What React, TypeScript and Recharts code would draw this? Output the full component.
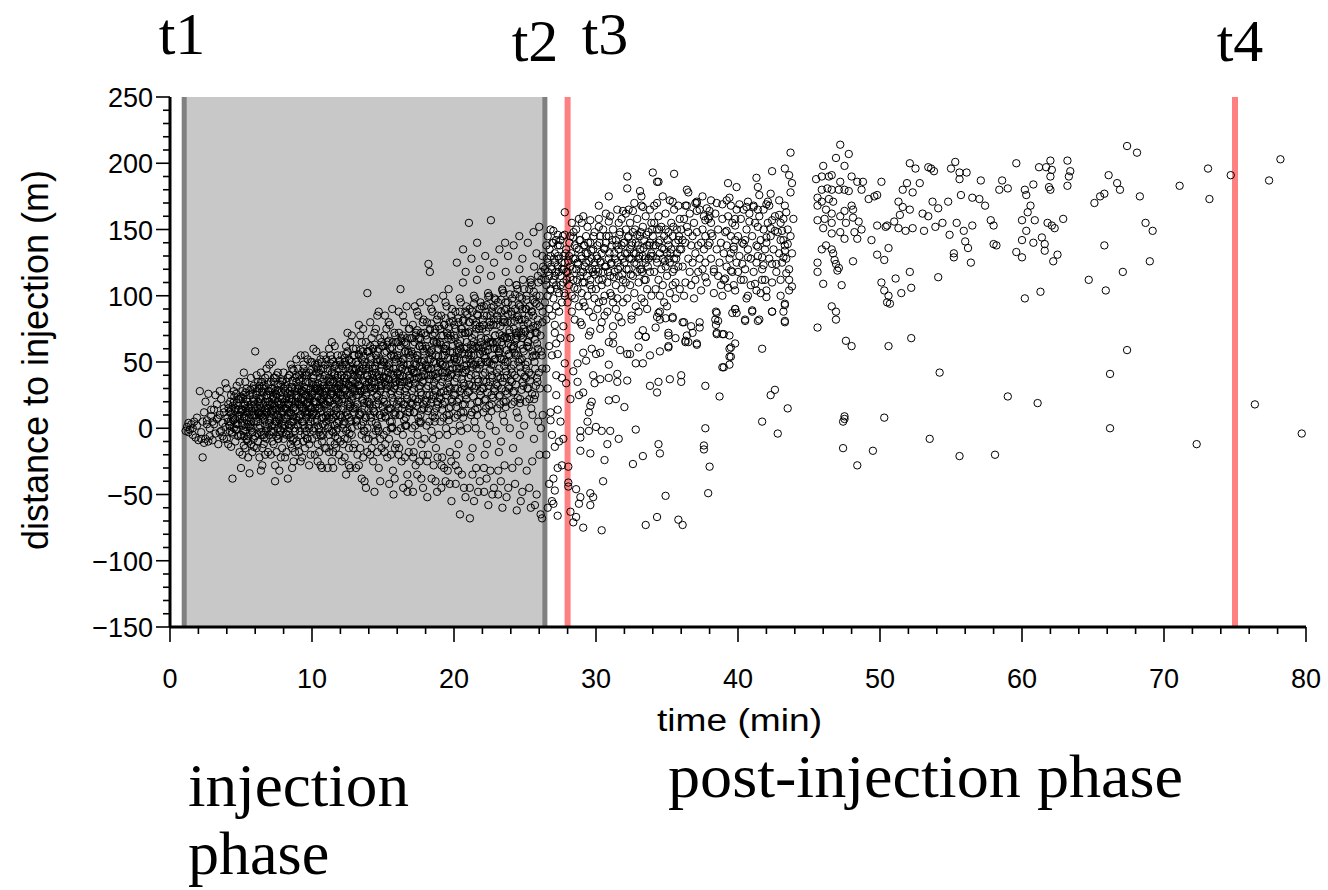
import React from "react";
import {
  ScatterChart,
  Scatter,
  XAxis,
  YAxis,
  ReferenceArea,
  ReferenceLine,
  Customized,
} from "recharts";

// time markers (min)
const T1 = 1.0;
const T2 = 26.4;
const T3 = 28.0;
const T4 = 75.0;

const X_TICKS = [0, 2, 4, 6, 8, 10, 12, 14, 16, 18, 20, 22, 24, 26, 28, 30, 32, 34, 36, 38, 40, 42, 44, 46, 48, 50, 52, 54, 56, 58, 60, 62, 64, 66, 68, 70, 72, 74, 76, 78, 80];
const X_LABELED = [0, 10, 20, 30, 40, 50, 60, 70, 80];
const Y_TICKS = [-150, -140, -130, -120, -110, -100, -90, -80, -70, -60, -50, -40, -30, -20, -10, 0, 10, 20, 30, 40, 50, 60, 70, 80, 90, 100, 110, 120, 130, 140, 150, 160, 170, 180, 190, 200, 210, 220, 230, 240, 250];
const Y_LABELED = [-150, -100, -50, 0, 50, 100, 150, 200, 250];

// [time (min), distance to injection (m)]
const injectionEarly: [number, number][] = [
  [1.1,-2],[1.2,1],[1.3,4],[1.4,-1],[1.5,3],[1.6,0],[1.7,5],[1.8,-7],[1.9,2],[1.9,8],[1.6,-5],[1.3,-3],
  [2.0,-9],[2.1,28],[2.2,-8],[2.3,-22],[2.3,5],[2.4,12],[2.5,-8],[2.5,20],[2.6,3],[2.7,-10],[2.7,26],[2.8,0],[2.8,-6],[2.9,9],[2.9,14],[2.2,-3],[2.6,6],[2.4,-11],
  [3.0,-9],[3.1,14],[3.1,3],[3.2,-4],[3.3,18],[3.3,7],[3.4,-12],[3.5,28],[3.5,10],[3.6,-2],[3.6,22],[3.7,4],[3.8,-8],[3.8,15],[3.9,34],[3.9,1],[3.2,25],[3.4,8],[3.7,-6],[3.0,5],[3.5,-3],[3.8,12],
  [4.0,30],[4.0,-8],[4.1,18],[4.1,5],[4.2,-2],[4.2,12],[4.3,25],[4.3,-14],[4.4,-38],[4.4,8],[4.5,20],[4.5,0],[4.6,15],[4.6,-10],[4.7,32],[4.7,3],[4.8,-6],[4.8,22],[4.9,10],[4.9,-18],[4.1,-12],[4.3,14],[4.5,28],[4.7,-1],[4.9,35],[4.2,2],[4.6,7],[4.8,17],[4.4,-4],[5.0,-30],
  [5.0,12],[5.0,-5],[5.1,28],[5.1,2],[5.2,-13],[5.2,42],[5.3,18],[5.3,-15],[5.4,6],[5.4,30],[5.5,-10],[5.5,15],[5.6,-34],[5.6,25],[5.7,0],[5.7,38],[5.8,10],[5.8,-18],[5.9,20],[5.9,-8],[5.1,14],[5.2,8],[5.3,-2],[5.4,22],[5.5,3],[5.6,12],[5.7,-12],[5.8,30],[5.9,5],[5.0,24],[5.3,35],[5.5,-22],[5.7,18],[5.9,-14],[5.2,-6],[5.4,-9],[5.6,1],[5.8,-3],[5.1,-20],[5.9,32],
  [6.0,58],[6.0,10],[6.0,-6],[6.1,25],[6.1,-15],[6.2,35],[6.2,5],[6.3,-22],[6.3,18],[6.4,42],[6.4,-3],[6.5,28],[6.5,12],[6.6,-12],[6.6,32],[6.7,2],[6.7,20],[6.8,-8],[6.8,45],[6.9,15],[6.9,-18],[6.1,8],[6.2,-10],[6.3,30],[6.4,22],[6.5,-28],[6.6,8],[6.7,38],[6.8,25],[6.9,0],[6.0,30],[6.2,15],[6.4,10],[6.6,-5],[6.8,12],[6.1,40],[6.3,0],[6.5,-15],[6.7,-20],[6.9,28],[6.3,12],[6.5,35],[6.7,10],[6.9,40],[6.4,-32],
  [7.0,20],[7.0,-5],[7.0,48],[7.1,12],[7.1,-20],[7.2,30],[7.2,2],[7.3,-12],[7.3,38],[7.4,15],[7.4,-28],[7.5,25],[7.5,5],[7.6,-8],[7.6,42],[7.7,18],[7.7,-32],[7.8,8],[7.8,33],[7.9,-15],[7.9,22],[7.1,35],[7.2,-10],[7.3,10],[7.4,28],[7.5,-18],[7.6,0],[7.7,28],[7.8,-2],[7.9,12],[7.0,8],[7.2,18],[7.4,5],[7.6,20],[7.8,18],[7.1,-2],[7.3,22],[7.5,40],[7.7,-5],[7.9,35],[7.2,50],[7.4,-40],[7.6,10],[7.8,-22],[7.0,28],[7.3,-3],[7.5,14],[7.7,6],[7.9,2],[7.1,25],
  [8.0,15],[8.0,-8],[8.0,42],[8.1,28],[8.1,2],[8.2,-18],[8.2,35],[8.3,10],[8.3,-38],[8.4,22],[8.4,-5],[8.5,48],[8.5,12],[8.6,-15],[8.6,30],[8.7,5],[8.7,-25],[8.8,38],[8.8,18],[8.9,-10],[8.9,25],[8.1,15],[8.2,8],[8.3,30],[8.4,0],[8.5,-12],[8.6,20],[8.7,44],[8.8,-2],[8.9,8],[8.0,30],[8.2,22],[8.4,40],[8.6,-30],[8.8,28],[8.1,-22],[8.3,-2],[8.5,25],[8.7,15],[8.9,35],[8.2,-5],[8.4,12],[8.6,5],[8.8,-18],[8.0,0],[8.3,18],[8.5,2],[8.7,-8],[8.9,52],[8.6,45],
];

const injectionMid: [number, number][] = [
  [9.0,20],[9.0,-12],[9.0,45],[9.1,8],[9.1,32],[9.2,-5],[9.2,55],[9.3,15],[9.3,-22],[9.4,28],[9.4,2],[9.5,40],[9.5,-15],[9.6,18],[9.6,-2],[9.7,35],[9.7,10],[9.8,-28],[9.8,22],[9.9,50],[9.9,5],[9.1,-18],[9.2,22],[9.3,38],[9.4,-10],[9.5,12],[9.6,30],[9.7,-8],[9.8,42],[9.9,15],[9.0,30],[9.2,10],[9.4,48],[9.6,8],[9.8,0],[9.1,18],[9.3,5],[9.5,25],[9.7,52],[9.9,-20],[9.2,-25],[9.4,15],[9.6,42],[9.8,12],[9.0,2],[9.3,28],[9.5,0],[9.7,20],[9.9,30],[9.1,40],[9.5,55],[9.8,-12],
  [10.0,25],[10.0,-8],[10.0,50],[10.1,12],[10.1,38],[10.2,-20],[10.2,5],[10.3,30],[10.3,58],[10.4,15],[10.4,-12],[10.5,42],[10.5,0],[10.6,22],[10.6,-28],[10.7,35],[10.7,8],[10.8,55],[10.8,-5],[10.9,18],[10.9,40],[10.1,-2],[10.2,28],[10.3,10],[10.4,45],[10.5,-18],[10.6,30],[10.7,-10],[10.8,20],[10.9,2],[10.0,35],[10.2,48],[10.4,2],[10.6,12],[10.8,32],[10.1,20],[10.3,-5],[10.5,28],[10.7,50],[10.9,-15],[10.2,15],[10.4,30],[10.6,52],[10.8,8],[10.0,10],[10.3,42],[10.5,15],[10.7,22],[10.9,28],[10.1,60],[10.4,-25],[10.6,-5],[10.8,45],[10.3,20],[10.7,-30],
  [11.0,30],[11.0,5],[11.0,-15],[11.1,45],[11.1,20],[11.2,-5],[11.2,60],[11.3,12],[11.3,35],[11.4,-25],[11.4,28],[11.5,50],[11.5,8],[11.6,-12],[11.6,40],[11.7,22],[11.7,-2],[11.8,55],[11.8,15],[11.9,-20],[11.9,32],[11.1,0],[11.2,38],[11.3,-10],[11.4,10],[11.5,25],[11.6,18],[11.7,48],[11.8,-8],[11.9,5],[11.0,52],[11.2,22],[11.4,42],[11.6,2],[11.8,30],[11.1,-30],[11.3,55],[11.5,-18],[11.7,10],[11.9,45],[11.2,8],[11.4,-2],[11.6,62],[11.8,38],[11.0,18],[11.3,25],[11.5,35],[11.7,-15],[11.9,20],[11.1,10],[11.5,-30],[11.8,0],[11.4,65],[11.7,30],[11.2,-18],
  [12.0,35],[12.0,10],[12.0,-10],[12.1,55],[12.1,22],[12.2,0],[12.2,45],[12.3,-22],[12.3,28],[12.4,62],[12.4,12],[12.5,40],[12.5,-8],[12.6,20],[12.6,52],[12.7,5],[12.7,-30],[12.8,35],[12.8,70],[12.9,15],[12.9,-15],[12.1,-25],[12.2,30],[12.3,50],[12.4,-2],[12.5,25],[12.6,8],[12.7,42],[12.8,-5],[12.9,60],[12.0,48],[12.2,15],[12.4,35],[12.6,-15],[12.8,22],[12.1,8],[12.3,5],[12.5,58],[12.7,18],[12.9,30],[12.2,-12],[12.4,48],[12.6,32],[12.8,0],[12.0,25],[12.3,38],[12.5,10],[12.7,65],[12.9,45],[12.1,40],[12.4,-35],[12.6,-28],[12.8,50],[12.5,72],[12.3,-8],
  [13.0,40],[13.0,15],[13.0,-12],[13.1,60],[13.1,25],[13.2,2],[13.2,48],[13.3,-28],[13.3,32],[13.4,70],[13.4,10],[13.5,52],[13.5,-5],[13.6,22],[13.6,45],[13.7,-40],[13.7,30],[13.8,65],[13.8,8],[13.9,102],[13.9,-18],[13.1,-30],[13.2,35],[13.3,55],[13.4,-15],[13.5,28],[13.6,5],[13.7,50],[13.8,-8],[13.9,40],[13.0,55],[13.2,18],[13.4,40],[13.6,75],[13.8,25],[13.1,5],[13.3,10],[13.5,65],[13.7,15],[13.9,20],[13.2,-20],[13.4,28],[13.6,-22],[13.8,45],[13.0,28],[13.3,42],[13.5,12],[13.7,-2],[13.9,58],[13.1,45],[13.5,-38],[13.8,-45],[13.6,58],[13.3,78],[13.9,0],
  [14.0,45],[14.0,20],[14.0,-8],[14.1,62],[14.1,30],[14.2,5],[14.2,52],[14.3,-25],[14.3,38],[14.4,72],[14.4,12],[14.5,55],[14.5,-2],[14.6,25],[14.6,85],[14.7,-30],[14.7,40],[14.8,68],[14.8,10],[14.9,48],[14.9,-15],[14.1,-20],[14.2,35],[14.3,60],[14.4,-10],[14.5,30],[14.6,2],[14.7,18],[14.8,-40],[14.9,32],[14.0,58],[14.2,22],[14.4,45],[14.6,50],[14.8,28],[14.1,10],[14.3,15],[14.5,75],[14.7,60],[14.9,8],[14.2,-15],[14.4,30],[14.6,-18],[14.8,52],[14.0,35],[14.3,-5],[14.5,42],[14.7,-2],[14.9,65],[14.1,80],[14.4,-48],[14.7,88],[14.5,18],[14.2,68],[14.8,-8],
  [15.0,50],[15.0,22],[15.05,-5],[15.1,70],[15.15,35],[15.2,8],[15.25,58],[15.3,-22],[15.35,42],[15.4,80],[15.45,15],[15.5,60],[15.55,0],[15.6,28],[15.65,90],[15.7,-32],[15.75,45],[15.8,72],[15.85,12],[15.9,52],[15.95,-12],[15.12,-18],[15.22,38],[15.32,65],[15.42,-8],[15.52,32],[15.62,5],[15.72,20],[15.82,-38],[15.92,35],[15.02,62],[15.18,25],[15.38,48],[15.58,55],[15.78,30],[15.08,12],[15.28,18],[15.48,78],[15.68,65],[15.88,10],[15.16,-12],[15.36,32],[15.56,-20],[15.76,55],[15.04,38],[15.26,-2],[15.46,45],[15.66,0],[15.86,70],[15.14,85],[15.44,-42],[15.74,-50],[15.54,15],[15.24,75],[15.84,-15],
  [16.02,55],[16.06,25],[16.0,-2],[16.12,72],[16.16,38],[16.22,10],[16.24,62],[16.31,-25],[16.35,45],[16.41,85],[16.44,18],[16.52,65],[16.55,2],[16.61,30],[16.66,92],[16.71,-35],[16.74,48],[16.82,75],[16.85,15],[16.92,55],[16.96,-10],[16.1,-20],[16.2,40],[16.3,68],[16.4,-5],[16.5,35],[16.6,8],[16.7,22],[16.8,-42],[16.9,38],[16.04,65],[16.18,28],[16.38,52],[16.58,58],[16.78,32],[16.08,15],[16.28,20],[16.48,80],[16.68,68],[16.88,12],[16.14,-15],[16.34,35],[16.54,-22],[16.76,58],[16.0,42],[16.26,0],[16.46,48],[16.64,2],[16.86,75],[16.11,88],[16.42,-45],[16.72,-48],[16.56,18],[16.23,105],[16.81,-18],
];

const injectionLate: [number, number][] = [
  [17.0,58],[17.03,28],[17.05,0],[17.1,78],[17.14,42],[17.2,12],[17.23,65],[17.3,-28],[17.33,48],[17.4,88],[17.42,20],[17.5,68],[17.53,5],[17.6,32],[17.62,95],[17.7,-38],[17.73,50],[17.8,80],[17.84,18],[17.9,58],[17.93,-8],[17.12,-22],[17.22,42],[17.32,72],[17.44,-5],[17.52,38],[17.64,10],[17.72,25],[17.82,-45],[17.92,40],[17.04,68],[17.18,30],[17.38,55],[17.58,62],[17.78,35],[17.08,18],[17.28,22],[17.48,85],[17.68,72],[17.88,15],[17.16,-18],[17.36,38],[17.56,-25],[17.76,62],[17.02,45],[17.26,2],[17.46,52],[17.66,5],[17.86,82],[17.11,-48],[17.41,-35],[17.71,-12],[17.54,22],[17.24,92],[17.81,-20],
  [18.0,62],[18.04,30],[18.06,2],[18.1,80],[18.13,45],[18.2,124],[18.22,15],[18.3,118],[18.34,52],[18.4,90],[18.43,22],[18.5,70],[18.52,-8],[18.6,35],[18.63,98],[18.7,-40],[18.72,55],[18.8,82],[18.83,20],[18.9,60],[18.94,-5],[18.11,-25],[18.21,45],[18.31,75],[18.41,-2],[18.51,40],[18.61,12],[18.71,28],[18.81,-48],[18.91,42],[18.02,70],[18.18,32],[18.38,58],[18.58,65],[18.78,38],[18.08,20],[18.28,25],[18.48,88],[18.68,75],[18.88,18],[18.16,-20],[18.36,40],[18.56,-28],[18.76,65],[18.01,48],[18.26,5],[18.46,55],[18.66,8],[18.86,85],[18.12,-52],[18.42,-38],[18.73,-15],[18.55,25],[18.24,95],[18.84,-22],
  [19.0,65],[19.03,32],[19.05,5],[19.1,85],[19.14,48],[19.2,18],[19.23,70],[19.3,-30],[19.33,55],[19.4,95],[19.42,25],[19.5,72],[19.53,-5],[19.6,38],[19.62,105],[19.7,-42],[19.73,58],[19.8,85],[19.84,22],[19.9,62],[19.93,-2],[19.12,-28],[19.22,48],[19.32,78],[19.44,0],[19.52,42],[19.64,15],[19.72,30],[19.82,-55],[19.92,45],[19.04,75],[19.18,35],[19.38,60],[19.58,68],[19.78,40],[19.08,22],[19.28,28],[19.48,92],[19.68,80],[19.88,20],[19.16,-22],[19.36,42],[19.56,-32],[19.76,70],[19.02,50],[19.26,8],[19.46,58],[19.66,10],[19.86,90],[19.11,-45],[19.41,-40],[19.71,-18],[19.54,28],[19.24,100],[19.81,-25],
  [20.0,70],[20.04,35],[20.06,8],[20.1,88],[20.13,50],[20.2,125],[20.22,20],[20.3,-32],[20.34,58],[20.4,98],[20.43,28],[20.5,75],[20.52,-2],[20.6,42],[20.63,110],[20.7,-45],[20.72,60],[20.8,88],[20.83,25],[20.9,65],[20.94,0],[20.11,-28],[20.21,52],[20.31,80],[20.41,2],[20.51,45],[20.61,18],[20.71,32],[20.81,-52],[20.91,48],[20.02,78],[20.18,38],[20.38,62],[20.58,72],[20.78,42],[20.08,25],[20.28,30],[20.48,95],[20.68,82],[20.88,22],[20.16,-20],[20.36,45],[20.56,-35],[20.76,72],[20.01,52],[20.26,10],[20.46,60],[20.66,12],[20.86,92],[20.42,-65],[20.64,135],[20.12,-42],[20.54,30],[20.82,118],[20.32,-12],
  [21.0,72],[21.03,38],[21.05,155],[21.1,90],[21.14,52],[21.2,10],[21.23,128],[21.3,-35],[21.33,60],[21.4,100],[21.42,30],[21.5,78],[21.53,0],[21.6,45],[21.62,112],[21.7,-48],[21.73,62],[21.8,90],[21.84,28],[21.9,68],[21.93,-5],[21.12,-68],[21.22,55],[21.32,82],[21.44,5],[21.52,48],[21.64,20],[21.72,35],[21.82,-40],[21.92,50],[21.04,80],[21.18,40],[21.38,65],[21.58,75],[21.78,45],[21.08,28],[21.28,32],[21.48,98],[21.68,85],[21.88,25],[21.16,-22],[21.36,48],[21.56,-30],[21.76,75],[21.02,55],[21.26,12],[21.46,62],[21.66,15],[21.86,95],[21.41,-55],[21.63,140],[21.11,-45],[21.54,32],[21.81,120],[21.31,-15],
  [22.0,75],[22.04,40],[22.06,12],[22.1,92],[22.13,55],[22.2,130],[22.22,22],[22.3,-38],[22.34,62],[22.4,102],[22.43,32],[22.5,80],[22.52,2],[22.6,157],[22.63,48],[22.7,-50],[22.72,65],[22.8,92],[22.83,30],[22.9,70],[22.94,-2],[22.11,-30],[22.21,58],[22.31,85],[22.41,8],[22.51,50],[22.61,115],[22.71,38],[22.81,-45],[22.91,52],[22.02,82],[22.18,42],[22.38,68],[22.58,78],[22.78,48],[22.08,30],[22.28,35],[22.48,100],[22.68,88],[22.88,28],[22.16,-20],[22.36,50],[22.56,-32],[22.76,78],[22.01,58],[22.26,15],[22.46,65],[22.66,18],[22.86,98],[22.42,-58],[22.64,25],[22.12,-48],[22.54,35],[22.82,125],[22.32,-12],
  [23.0,78],[23.03,42],[23.05,15],[23.1,95],[23.14,58],[23.2,135],[23.23,25],[23.3,-40],[23.33,65],[23.4,105],[23.42,35],[23.5,82],[23.53,5],[23.6,140],[23.62,50],[23.7,-52],[23.73,68],[23.8,95],[23.84,32],[23.9,72],[23.93,0],[23.12,-32],[23.22,60],[23.32,88],[23.44,10],[23.52,52],[23.64,118],[23.72,40],[23.82,-45],[23.92,55],[23.04,85],[23.18,45],[23.38,70],[23.58,80],[23.78,50],[23.08,32],[23.28,38],[23.48,102],[23.68,90],[23.88,30],[23.16,-18],[23.36,52],[23.56,-28],[23.76,80],[23.02,60],[23.26,18],[23.46,68],[23.66,20],[23.86,110],[23.41,-60],[23.63,28],[23.11,-50],[23.54,38],[23.81,130],[23.31,-10],
  [24.0,80],[24.04,45],[24.06,18],[24.1,98],[24.13,60],[24.2,138],[24.22,28],[24.3,-42],[24.34,68],[24.4,108],[24.43,38],[24.5,85],[24.52,8],[24.6,145],[24.63,52],[24.7,-55],[24.72,70],[24.8,98],[24.83,35],[24.9,75],[24.94,2],[24.11,-30],[24.21,62],[24.31,90],[24.41,12],[24.51,55],[24.61,120],[24.71,42],[24.81,-48],[24.91,58],[24.02,88],[24.18,48],[24.38,72],[24.58,82],[24.78,52],[24.08,35],[24.28,40],[24.48,105],[24.68,92],[24.88,32],[24.16,-15],[24.36,55],[24.56,-25],[24.76,82],[24.01,62],[24.26,20],[24.46,70],[24.66,22],[24.86,112],[24.42,-62],[24.64,-5],[24.82,128],
  [25.0,82],[25.03,48],[25.05,20],[25.1,100],[25.14,62],[25.2,140],[25.23,30],[25.3,-45],[25.33,70],[25.4,110],[25.42,40],[25.5,88],[25.53,10],[25.6,148],[25.62,55],[25.7,-58],[25.73,72],[25.8,100],[25.84,38],[25.9,78],[25.93,5],[26.0,152],[26.03,92],[26.05,30],[26.1,-65],[26.13,118],[26.15,58],[26.2,-68],[26.23,80],[26.25,10],[25.12,-32],[25.22,65],[25.32,92],[25.44,15],[25.52,58],[25.64,122],[25.72,45],[25.82,-50],[25.92,60],[25.04,90],[25.18,50],[25.38,75],[25.58,85],[25.78,55],[25.08,38],[25.28,42],[25.48,108],[25.68,95],[25.88,35],[26.02,-20],[26.12,0],[26.22,130],[25.41,-60],[25.63,-8],[25.81,132],[25.31,22],[25.51,-25],[25.71,25],[25.91,115],[26.21,45],
];

// the darkest band of the injection phase
const injectionCore: [number, number][] = [
  [4.05,8],[4.12,15],[4.18,2],[4.24,20],[4.31,11],[4.36,-3],[4.42,17],[4.47,6],[4.53,24],[4.58,13],[4.63,-1],[4.69,19],[4.74,9],[4.79,3],[4.84,14],[4.88,22],[4.93,7],[4.97,-5],[4.27,5],[4.66,26],
  [5.03,14],[5.08,4],[5.13,22],[5.17,-2],[5.22,17],[5.27,9],[5.31,27],[5.36,1],[5.41,12],[5.46,20],[5.51,-6],[5.56,8],[5.61,16],[5.66,29],[5.71,5],[5.76,13],[5.81,-3],[5.86,22],[5.91,10],[5.96,18],[5.19,25],[5.43,-8],[5.68,3],[5.84,26],[5.33,15],
  [6.03,16],[6.07,5],[6.12,28],[6.16,-4],[6.21,20],[6.26,11],[6.3,32],[6.35,2],[6.39,15],[6.44,24],[6.49,-5],[6.53,9],[6.58,18],[6.62,30],[6.67,6],[6.71,14],[6.76,-2],[6.81,25],[6.85,12],[6.9,20],[6.94,33],[6.98,4],[6.18,12],[6.41,35],[6.64,-7],[6.83,17],[6.27,22],[6.56,27],
  [7.03,18],[7.07,6],[7.12,30],[7.16,-3],[7.21,22],[7.26,13],[7.3,35],[7.35,3],[7.39,17],[7.44,26],[7.49,-6],[7.53,10],[7.58,20],[7.62,33],[7.67,8],[7.71,15],[7.76,-1],[7.81,27],[7.85,13],[7.9,22],[7.94,36],[7.98,5],[7.18,14],[7.41,38],[7.64,-8],[7.83,19],[7.27,24],[7.56,29],
  [8.03,20],[8.07,7],[8.12,32],[8.16,-4],[8.21,24],[8.26,14],[8.3,38],[8.35,3],[8.39,18],[8.44,28],[8.49,-7],[8.53,11],[8.58,22],[8.62,36],[8.67,9],[8.71,16],[8.76,0],[8.81,30],[8.85,14],[8.9,24],[8.94,39],[8.98,6],[8.18,15],[8.41,40],[8.64,-9],[8.83,20],[8.27,26],[8.56,31],
  [9.03,23],[9.07,9],[9.12,36],[9.16,-2],[9.21,27],[9.26,16],[9.3,42],[9.35,5],[9.39,21],[9.44,31],[9.49,-5],[9.53,13],[9.58,25],[9.62,40],[9.67,11],[9.71,19],[9.76,2],[9.81,34],[9.85,17],[9.9,27],[9.94,44],[9.98,8],[9.18,18],[9.41,45],[9.64,-8],[9.83,23],[9.27,29],[9.56,35],[9.09,30],[9.74,24],
  [10.03,26],[10.07,11],[10.12,40],[10.16,0],[10.21,30],[10.26,18],[10.3,46],[10.35,6],[10.39,24],[10.44,34],[10.49,-3],[10.53,15],[10.58,28],[10.62,44],[10.67,13],[10.71,21],[10.76,3],[10.81,37],[10.85,19],[10.9,30],[10.94,48],[10.98,9],[10.18,20],[10.41,49],[10.64,-6],[10.83,25],[10.27,32],[10.56,38],[10.09,33],[10.74,27],
  [11.03,28],[11.07,12],[11.12,43],[11.16,1],[11.21,32],[11.26,20],[11.3,49],[11.35,7],[11.39,26],[11.44,37],[11.49,-3],[11.53,16],[11.58,30],[11.62,47],[11.67,14],[11.71,23],[11.76,4],[11.81,40],[11.85,21],[11.9,33],[11.94,51],[11.98,10],[11.18,22],[11.41,52],[11.64,-6],[11.83,27],[11.27,35],[11.56,41],[11.09,36],[11.74,29],
  [12.03,31],[12.07,14],[12.12,47],[12.16,3],[12.21,35],[12.26,22],[12.3,53],[12.35,9],[12.39,29],[12.44,40],[12.49,-1],[12.53,18],[12.58,33],[12.62,51],[12.67,16],[12.71,26],[12.76,6],[12.81,44],[12.85,24],[12.9,36],[12.94,55],[12.98,12],[12.18,25],[12.41,56],[12.64,-4],[12.83,30],[12.27,38],[12.56,45],[12.09,40],[12.74,32],
  [13.03,34],[13.07,16],[13.12,50],[13.16,6],[13.21,38],[13.26,25],[13.3,56],[13.35,11],[13.39,32],[13.44,43],[13.49,2],[13.53,21],[13.58,36],[13.62,54],[13.67,19],[13.71,29],[13.76,8],[13.81,47],[13.85,27],[13.9,39],[13.94,58],[13.98,14],[13.18,28],[13.41,59],[13.64,-2],[13.83,33],[13.27,41],[13.56,48],[13.09,44],[13.74,35],
  [14.03,37],[14.07,18],[14.12,54],[14.16,8],[14.21,41],[14.26,28],[14.3,60],[14.35,13],[14.39,35],[14.44,47],[14.49,4],[14.53,24],[14.58,39],[14.62,58],[14.67,21],[14.71,32],[14.76,10],[14.81,51],[14.85,30],[14.9,43],[14.94,62],[14.98,16],[14.18,31],[14.41,63],[14.64,0],[14.83,36],[14.27,45],[14.56,52],[14.09,48],[14.74,38],
  [15.03,39],[15.07,20],[15.12,57],[15.16,9],[15.21,43],[15.26,30],[15.3,63],[15.35,14],[15.39,37],[15.44,49],[15.49,5],[15.53,26],[15.58,41],[15.62,61],[15.67,23],[15.71,34],[15.76,11],[15.81,54],[15.85,32],[15.9,45],[15.94,65],[15.98,18],[15.18,33],[15.41,66],[15.64,1],[15.83,38],[15.27,47],[15.56,55],[15.09,50],[15.74,40],
  [16.03,41],[16.07,21],[16.12,60],[16.16,10],[16.21,46],[16.26,32],[16.3,66],[16.35,15],[16.39,39],[16.44,52],[16.49,6],[16.53,28],[16.58,44],[16.62,64],[16.67,25],[16.71,36],[16.76,12],[16.81,57],[16.85,34],[16.9,48],[16.94,68],[16.98,19],[16.18,35],[16.41,70],[16.64,2],[16.83,40],[16.27,50],[16.56,58],[16.09,53],[16.74,43],
  [17.03,44],[17.07,23],[17.12,63],[17.16,12],[17.21,49],[17.26,34],[17.3,70],[17.35,17],[17.39,42],[17.44,55],[17.49,8],[17.53,30],[17.58,47],[17.62,68],[17.67,27],[17.71,39],[17.76,14],[17.81,60],[17.85,36],[17.9,51],[17.94,72],[17.98,21],[17.18,37],[17.41,74],[17.64,4],[17.83,43],[17.27,53],[17.56,62],[17.09,56],[17.74,46],
  [18.03,47],[18.07,25],[18.12,67],[18.16,13],[18.21,52],[18.26,37],[18.3,74],[18.35,19],[18.39,45],[18.44,59],[18.49,9],[18.53,32],[18.58,50],[18.62,72],[18.67,29],[18.71,41],[18.76,15],[18.81,64],[18.85,39],[18.9,54],[18.94,77],[18.98,23],[18.18,40],[18.41,79],[18.64,5],[18.83,46],[18.27,57],[18.56,66],[18.09,60],[18.74,49],
  [19.03,49],[19.07,27],[19.12,70],[19.16,14],[19.21,55],[19.26,39],[19.3,78],[19.35,20],[19.39,47],[19.44,62],[19.49,10],[19.53,34],[19.58,53],[19.62,76],[19.67,31],[19.71,44],[19.76,16],[19.81,67],[19.85,41],[19.9,57],[19.94,81],[19.98,25],[19.18,42],[19.41,83],[19.64,6],[19.83,49],[19.27,60],[19.56,70],[19.09,63],[19.74,52],
  [20.03,53],[20.07,30],[20.12,75],[20.16,16],[20.21,59],[20.26,42],[20.3,83],[20.35,22],[20.39,51],[20.44,66],[20.49,12],[20.53,37],[20.58,57],[20.62,81],[20.67,34],[20.71,47],[20.76,18],[20.81,72],[20.85,44],[20.9,61],[20.94,86],[20.98,27],[20.18,45],[20.41,88],[20.64,8],[20.83,52],[20.27,64],[20.56,75],[20.09,68],[20.74,56],
  [21.03,57],[21.07,33],[21.12,80],[21.16,18],[21.21,63],[21.26,46],[21.3,88],[21.35,24],[21.39,55],[21.44,71],[21.49,14],[21.53,40],[21.58,61],[21.62,86],[21.67,37],[21.71,51],[21.76,20],[21.81,77],[21.85,48],[21.9,65],[21.94,92],[21.98,30],[21.18,49],[21.41,94],[21.64,10],[21.83,56],[21.27,68],[21.56,80],[21.09,73],[21.74,60],
  [22.03,61],[22.07,36],[22.12,85],[22.16,21],[22.21,67],[22.26,50],[22.3,93],[22.35,27],[22.39,59],[22.44,76],[22.49,17],[22.53,44],[22.58,65],[22.62,91],[22.67,40],[22.71,55],[22.76,23],[22.81,82],[22.85,52],[22.9,70],[22.94,97],[22.98,33],[22.18,53],[22.41,99],[22.64,13],[22.83,60],[22.27,73],[22.56,85],[22.09,78],[22.74,64],
  [23.03,65],[23.07,39],[23.12,89],[23.16,24],[23.21,71],[23.26,53],[23.3,97],[23.35,30],[23.39,63],[23.44,80],[23.49,20],[23.53,47],[23.58,69],[23.62,95],[23.67,43],[23.71,59],[23.76,26],[23.81,86],[23.85,56],[23.9,74],[23.94,101],[23.98,36],[23.18,57],[23.41,104],[23.64,16],[23.83,64],[23.27,77],[23.56,89],[23.09,82],[23.74,68],
  [24.03,69],[24.07,42],[24.12,93],[24.16,27],[24.21,75],[24.26,57],[24.3,101],[24.35,33],[24.39,67],[24.44,84],[24.49,23],[24.53,50],[24.58,73],[24.62,99],[24.67,46],[24.71,63],[24.76,29],[24.81,90],[24.85,60],[24.9,78],[24.94,105],[24.98,39],[24.18,61],[24.41,108],[24.64,19],[24.83,68],[24.27,81],[24.56,93],[24.09,86],[24.74,72],
  [25.03,73],[25.07,45],[25.12,97],[25.16,30],[25.21,79],[25.26,61],[25.3,105],[25.35,36],[25.39,71],[25.44,88],[25.49,26],[25.53,54],[25.58,77],[25.62,103],[25.67,50],[25.71,67],[25.76,32],[25.81,94],[25.85,64],[25.9,82],[25.94,110],[25.98,42],[25.18,65],[25.41,112],[25.64,22],[25.83,72],[25.27,85],[25.56,97],[25.09,90],[25.74,76],[26.04,100],[26.09,70],[26.14,112],[26.19,55],[26.24,88],[26.28,122],
];

const postBand: [number, number][] = [
  [26.4,95],[26.4,120],[26.5,138],[26.5,108],[26.5,82],[26.6,125],[26.6,100],[26.6,145],[26.7,115],[26.7,90],[26.8,130],[26.8,105],[26.8,150],[26.9,120],[26.9,85],[27.0,140],[27.0,112],[27.0,98],[27.1,125],[27.1,132],[27.2,108],[27.2,118],[27.2,92],[27.3,138],[27.3,122],[27.4,102],[27.4,128],[27.4,88],[27.5,115],[27.5,142],[27.6,120],[27.6,95],[27.7,130],[27.7,110],[27.8,125],[27.8,100],[27.9,135],[27.9,118],[26.7,62],[27.5,68],
  [26.5,45],[26.6,30],[26.8,12],[26.9,-5],[26.5,-20],[26.7,-42],[26.9,-55],[26.6,-60],[27.0,-38],[27.4,-10],[27.5,5],[27.2,40],[26.9,55],
  [28.0,118],[28.0,95],[28.1,130],[28.1,108],[28.2,145],[28.2,122],[28.3,100],[28.3,88],[28.4,128],[28.4,112],[28.5,138],[28.5,98],[28.6,120],[28.6,150],[28.7,105],[28.7,125],[28.8,92],[28.8,135],[28.9,115],[28.9,142],[29.0,102],[29.0,128],[29.1,118],[29.1,95],[29.2,138],[29.2,110],[29.3,125],[29.3,145],[29.4,100],[29.4,132],[29.5,120],[29.5,88],[29.6,140],[29.6,112],[29.7,128],[29.7,105],[29.8,135],[29.8,118],[29.9,98],[29.9,148],[28.3,155],[28.8,158],[29.4,152],[29.9,125],[28.5,82],[29.0,78],[29.5,70],[28.2,68],[29.8,84],[29.2,92],
  [30.0,120],[30.0,105],[30.1,138],[30.1,128],[30.2,112],[30.2,95],[30.3,145],[30.3,125],[30.4,108],[30.4,132],[30.5,118],[30.5,150],[30.6,100],[30.6,135],[30.7,122],[30.7,140],[30.8,110],[30.8,88],[30.9,128],[30.9,145],[31.0,115],[31.0,102],[31.1,138],[31.1,125],[31.2,95],[31.2,150],[31.3,118],[31.3,132],[31.4,108],[31.4,142],[31.5,125],[31.5,98],[31.6,135],[31.6,115],[31.7,148],[31.7,122],[31.8,105],[31.8,138],[31.9,128],[31.9,112],[30.2,158],[30.6,85],[31.0,160],[31.4,90],[31.8,158],[30.4,80],[31.2,70],[31.6,84],[30.9,65],[30.1,90],[30.7,162],[31.5,165],[31.9,95],[31.1,100],[30.5,96],
  [32.0,125],[32.0,140],[32.1,110],[32.1,150],[32.2,132],[32.2,98],[32.3,145],[32.3,120],[32.4,108],[32.4,155],[32.5,128],[32.5,138],[32.6,115],[32.6,148],[32.7,125],[32.7,102],[32.8,140],[32.8,132],[32.9,118],[32.9,158],[33.0,128],[33.0,110],[33.1,145],[33.1,135],[33.2,120],[33.2,98],[33.3,152],[33.3,130],[33.4,112],[33.4,142],[33.5,125],[33.5,160],[33.6,138],[33.6,105],[33.7,148],[33.7,128],[33.8,118],[33.8,140],[33.9,132],[33.9,155],[32.3,165],[32.8,92],[33.2,168],[33.6,90],[33.9,100],[32.5,85],[33.0,88],[32.1,162],[33.4,95],[32.7,170],[33.8,165],[32.4,135],[33.1,120],[33.5,112],[32.9,146],
  [34.0,130],[34.0,145],[34.1,118],[34.1,155],[34.2,138],[34.2,105],[34.3,150],[34.3,125],[34.4,112],[34.4,160],[34.5,132],[34.5,142],[34.6,120],[34.6,152],[34.7,128],[34.7,108],[34.8,145],[34.8,135],[34.9,122],[34.9,162],[35.0,132],[35.0,115],[35.1,148],[35.1,138],[35.2,125],[35.2,102],[35.3,155],[35.3,135],[35.4,118],[35.4,145],[35.5,128],[35.5,165],[35.6,140],[35.6,110],[35.7,150],[35.7,132],[35.8,122],[35.8,142],[35.9,135],[35.9,158],[34.3,170],[34.8,95],[35.2,172],[35.6,98],[35.9,105],[34.5,100],[35.0,92],[34.1,168],[35.4,108],[34.7,175],[35.8,168],[34.4,140],[35.1,128],[35.5,120],[34.9,150],
  [36.0,135],[36.0,150],[36.1,122],[36.2,158],[36.3,140],[36.3,110],[36.4,152],[36.5,128],[36.6,118],[36.6,162],[36.7,138],[36.8,145],[36.8,125],[36.9,155],[37.0,132],[37.0,112],[37.1,148],[37.2,138],[37.3,128],[37.3,165],[37.4,140],[37.5,120],[37.5,150],[37.6,135],[37.7,125],[37.7,145],[37.8,110],[37.9,158],[37.9,138],[36.2,100],[36.9,98],[37.4,104],[36.4,168],[37.1,170],[37.8,166],[36.7,108],[37.2,118],[36.1,142],[37.6,160],[36.5,148],
  [38.0,140],[38.1,128],[38.1,155],[38.2,145],[38.3,118],[38.4,162],[38.5,135],[38.6,150],[38.7,125],[38.8,140],[38.9,158],[39.0,132],[39.0,112],[39.1,148],[39.2,138],[39.3,160],[39.4,128],[39.5,145],[39.6,118],[39.6,155],[39.7,135],[39.8,142],[39.9,125],[39.9,165],[38.3,102],[38.9,100],[39.3,106],[38.5,170],[39.7,108],[38.6,115],[39.2,122],[38.0,160],[39.5,132],[38.8,108],[39.8,158],
  [40.0,145],[40.1,130],[40.2,158],[40.3,140],[40.5,120],[40.6,150],[40.7,135],[40.8,162],[40.9,128],[41.0,145],[41.1,118],[41.2,155],[41.3,138],[41.4,130],[41.5,160],[41.6,142],[41.7,120],[41.8,150],[41.9,135],[40.2,112],[40.9,108],[41.6,102],[40.4,165],[41.1,168],[41.8,165],[40.7,100],[41.3,125],[40.0,118],[41.9,112],[40.5,142],
  [42.0,140],[42.1,155],[42.2,128],[42.3,145],[42.5,135],[42.6,160],[42.7,118],[42.8,148],[42.9,132],[43.0,142],[43.1,125],[43.2,158],[43.3,138],[43.4,128],[43.5,150],[43.6,120],[43.7,145],[43.8,132],[42.4,110],[43.0,100],[43.6,112],[42.2,168],[42.9,172],[43.7,178],[43.9,158],
];

const postCore: [number, number][] = [
  [26.45,112],[26.55,128],[26.62,118],[26.73,135],[26.78,104],[26.85,122],[26.93,140],[26.97,110],[27.05,128],[27.12,115],[27.18,142],[27.26,105],[27.33,130],[27.37,118],[27.45,138],[27.52,108],[27.58,125],[27.66,145],[27.72,120],[27.77,102],[27.85,132],[27.93,112],
  [28.05,126],[28.13,140],[28.17,114],[28.26,132],[28.35,120],[28.42,148],[28.47,106],[28.55,128],[28.63,136],[28.68,112],[28.75,124],[28.84,142],[28.92,118],[28.97,130],[29.05,110],[29.15,138],[29.22,122],[29.28,132],[29.36,115],[29.45,140],[29.53,126],[29.58,108],[29.66,134],[29.74,120],[29.83,145],[29.92,116],
  [30.05,130],[30.15,118],[30.25,140],[30.33,126],[30.45,112],[30.55,136],[30.62,122],[30.72,145],[30.85,118],[30.95,132],[31.05,124],[31.15,142],[31.25,114],[31.35,128],[31.45,138],[31.55,120],[31.65,146],[31.75,130],[31.85,116],[31.95,140],
  [32.05,132],[32.15,120],[32.25,144],[32.35,128],[32.45,116],[32.55,140],[32.65,132],[32.75,150],[32.85,124],[32.95,138],[33.05,130],[33.15,148],[33.25,118],[33.35,136],[33.45,128],[33.55,146],[33.65,122],[33.75,138],[33.85,130],[33.95,150],
  [34.05,138],[34.25,128],[34.45,150],[34.65,136],[34.85,126],[35.05,142],[35.25,132],[35.45,152],[35.65,128],[35.85,145],
];

const postRead: [number, number][] = [
  [34.0,193],[35.5,192],[34.3,186],[43.7,208],[43.3,196],[43.6,191],[43.8,185],[42.4,194],[41.3,189],[41.4,182],[39.3,185],[39.9,182],[36.4,180],[36.5,178],[37.5,175],[37.1,171],[38.1,172],[39.4,174],[39.5,168],[40.7,171],[40.6,167],[41.5,176],[42.3,177],[42.0,169],[43.3,168],[42.9,161],
  [39.2,172],[38.9,169],[40.1,169],[41.1,167],[41.4,165],[42.1,171],[43.4,163],[42.4,157],[43.1,149],[32.2,190],[34.4,186],[32.2,181],[33.1,179],[33.2,175],[30.9,175],[30.2,168],[27.8,163],[35.4,171],[36.3,168],[37.0,170],[37.1,164],[38.0,164],[29.1,160],[29.6,157],[29.0,155],[30.9,156],[30.2,152],[31.6,155],[31.9,164],[32.6,164],[33.3,167],[27.0,149],[27.3,146],[27.8,146],[28.4,144],
  [39.8,153],[40.8,156],[42.3,151],[43.0,155],[43.2,142],[43.3,134],[43.8,107],[43.4,117],[42.7,124],[41.8,123],[41.7,112],[41.3,104],[42.0,99],[43.3,94],[43.2,88],[43.3,80],[42.4,88],[41.5,82],[41.0,89],[40.5,82],[39.8,90],[39.6,87],[38.5,87],[38.4,82],[38.5,72],[37.3,80],[36.7,77],[36.4,70],[36.1,80],[35.4,84],[35.1,72],[34.5,82],[34.4,87],[33.3,74],[32.5,82],[31.8,80],[31.2,77],[30.3,75],[29.6,73],[28.9,80],[27.7,77],[27.1,78],
  [41.7,60],[39.4,60],[39.8,64],[39.4,54],[39.0,46],[39.4,48],[37.7,32],[38.7,24],[42.3,25],[42.6,29],[43.5,15],[41.7,5],[42.8,-4],[37.7,0],[37.6,-13],[37.6,-16],[38.0,-29],[37.9,-49],[34.9,-51],[34.3,-67],[33.5,-73],[35.8,-69],[36.1,-73],[30.4,-77],[29.1,-75],[28.4,-71],[28.6,-67],[28.2,-63],[29.6,-58],[29.8,-52],[29.6,-49],[28.8,-57],[28.6,-46],[28.9,-52],[30.5,-40],[28.05,-29],[28.05,-41],[28.05,-44],[27.6,-28],[27.3,-30],[27.1,-47],[27.0,-57],[27.3,-66],
  [32.6,-27],[33.3,-21],[30.6,-24],[34.4,-12],[34.5,-19],[32.8,-1],[31.6,-8],[30.8,-12],[31.0,-2],[30.4,-2],[30.0,1],[29.5,-2],[28.9,-2],[28.9,-7],[28.9,-17],[29.6,-19],[27.7,-8],[27.1,-14],[29.4,5],[32.0,16],[31.4,22],[30.9,21],[29.5,12],[29.6,17],[29.7,20],[29.1,27],[28.8,25],[28.2,22],[27.2,25],[27.3,14],[26.8,6],
  [28.7,35],[27.9,34],[27.6,38],[29.9,34],[30.3,37],[30.9,38],[31.5,35],[32.2,36],[31.5,41],[30.9,48],[29.8,40],[28.4,43],[28.7,49],[33.8,32],[34.3,27],[34.4,35],[35.2,37],[36.0,40],[36.0,35],[32.8,49],[33.3,49],[32.2,56],[31.7,59],[32.4,56],[33.0,61],[33.8,55],[34.5,58],[35.1,62],[31.2,64],[33.0,70],[33.5,69],[36.3,65],[36.5,65],[37.1,63],[36.8,72],[35.1,70],[35.6,68],[38.5,71],[39.0,71],[29.1,57],[29.3,51],[29.7,60],[30.0,56],[30.3,57],[27.1,72],[27.2,64],[27.3,56],[27.8,49],
  [34.5,88],[34.3,84],[34.9,83],[35.4,83],[34.2,76],[33.5,69],[36.2,80],[37.3,76],[36.3,66],[37.1,64],[35.1,61],
  [38.45,88],[38.6,81],[38.45,78],[38.9,71],[39.4,70],[39.5,54],[38.9,46],[39.5,61],[40.5,81],[41.4,81],[41.0,88],[39.9,87],[39.8,90],[42.4,88],[43.3,93],[43.3,81],
  [37.7,157],[38.1,147],[39.2,149],[39.7,137],[40.4,139],[41.4,137],[40.7,129],[41.7,129],[42.4,124],[43.2,129],[43.5,139],[42.6,149],[41.4,152],[42.0,144],[40.3,124],[39.5,119],[38.3,120],[37.7,114],[39.1,113],[40.4,112],[41.2,109],[42.0,104],[43.0,112],[43.6,104],[39.8,104],[40.6,98],
];

const postSparse: [number, number][] = [
  [47.2,214],[47.8,207],[46.9,204],[46.0,198],[47.5,198],[45.5,188],[45.9,190],[46.4,190],[46.6,191],[47.2,186],[48.0,190],[48.4,186],[48.8,186],[45.9,180],[46.3,181],[46.6,180],[47.1,180],[47.5,180],[47.8,179],[48.7,180],[50.1,186],
  [45.6,174],[45.9,171],[46.4,173],[46.7,171],[45.6,168],[46.2,165],[46.6,162],[47.5,164],[48.0,168],[48.1,165],[49.2,173],[49.6,175],[49.8,176],[45.6,157],[46.1,158],[46.6,155],[47.2,160],[47.6,155],[48.1,159],[48.5,156],[48.7,150],
  [46.0,151],[46.6,147],[47.2,148],[47.5,143],[48.4,143],[48.2,148],[46.2,138],[46.7,132],[46.9,124],[47.0,119],[47.1,121],[46.8,127],[45.9,135],[46.6,135],[48.1,126],[45.6,125],[45.6,118],[46.0,109],[47.3,108],[46.6,92],[46.9,88],[46.9,82],[45.6,76],[47.6,66],[48.0,62],
  [47.5,9],[47.5,7],[47.4,5],[47.4,-15],[48.4,-28],[49.5,-17],[50.3,8],[50.6,62],[52.2,68],[49.8,131],[50.3,127],[49.8,153],[50.4,152],[50.1,110],[50.3,104],[50.6,100],[50.5,95],[50.7,94],[51.1,113],[51.5,102],[52.1,118],[52.2,106],[50.6,136],[49.4,142],
  [52.1,200],[52.5,196],[53.4,197],[53.6,196],[53.8,194],[51.9,185],[51.6,180],[52.3,178],[52.8,185],[51.3,171],[51.6,167],[52.1,165],[51.4,161],[51.0,156],[50.5,153],[51.3,151],[51.8,149],[52.3,151],[53.0,162],[53.4,160],[53.7,171],[54.1,166],[54.8,171],[53.1,149],[53.9,152],[54.4,155],[54.9,146],[54.1,114],
  [55.3,201],[55.0,196],[55.6,193],[55.6,188],[56.1,193],[57.1,187],[55.7,176],[56.5,174],[57.0,173],[57.4,168],[55.4,155],[55.9,149],[56.5,153],[56.0,141],[56.2,136],[55.2,132],[55.2,129],[56.4,125],[57.8,157],[58.0,153],[58.0,139],[58.2,138],[58.4,180],[58.6,187],[59.0,181],[59.6,200],
  [60.2,180],[60.3,176],[60.6,168],[60.4,163],[60.0,157],[60.9,157],[60.3,149],[60.0,142],[60.8,140],[59.6,133],[60.0,129],[61.2,197],[61.7,197],[62.0,202],[62.1,195],[62.0,190],[60.8,184],[61.9,182],[62.0,180],[61.8,155],[62.1,153],[62.3,151],[62.9,158],[61.4,144],[61.6,139],[61.6,134],[62.5,131],[62.2,126],[60.2,98],[61.3,103],
  [63.2,202],[63.4,194],[63.3,190],[63.2,183],[65.1,170],[65.5,175],[65.8,177],[66.1,191],[66.7,185],[66.9,180],[67.4,213],[68.1,208],[68.3,175],[68.7,155],[69.2,149],[65.8,138],[69.0,126],[67.1,118],[64.7,112],[65.9,104],[67.4,59],[66.2,41],[66.2,0],[59.0,24],[61.1,19],
  [71.1,183],[73.1,196],[73.2,173],[74.7,191],[78.2,203],[77.4,187],[76.4,18],[79.7,-4],[72.3,-12],[58.1,-20],[55.6,-21],[53.5,-8],[54.2,42],
];

const SERIES = [injectionEarly, injectionMid, injectionLate, injectionCore, postBand, postCore, postRead, postSparse];

const SANS = "'Liberation Sans', Arial, Helvetica, sans-serif";
const SERIF = "'Liberation Serif', 'Times New Roman', serif";

const Ring = (p: any) => (
  <circle cx={p.cx} cy={p.cy} r={3.7} fill="none" stroke="#000" strokeWidth={1} />
);

function TimeTick({ x, y, payload }: any) {
  const major = X_LABELED.includes(payload.value);
  return (
    <g>
      <line x1={x} x2={x} y1={y} y2={y + (major ? 15 : 7)} stroke="#000" strokeWidth={1.6} />
      {major && (
        <text x={x} y={y + 61} textAnchor="middle" fontSize={27} fontFamily={SANS} fill="#000">
          {payload.value}
        </text>
      )}
    </g>
  );
}

function DistTick({ x, y, payload }: any) {
  const major = Y_LABELED.includes(payload.value);
  const v = payload.value < 0 ? "\u2212" + Math.abs(payload.value) : String(payload.value);
  return (
    <g>
      <line x1={x} x2={x - (major ? 14 : 7)} y1={y} y2={y} stroke="#000" strokeWidth={1.6} />
      {major && (
        <text x={x - 17} y={y + 10} textAnchor="end" fontSize={27} fontFamily={SANS} fill="#000">
          {v}
        </text>
      )}
    </g>
  );
}

function Annotations() {
  return (
    <g>
      <text x={182} y={54} textAnchor="middle" fontSize={60} fontFamily={SERIF} fill="#000">t1</text>
      <text x={535} y={61} textAnchor="middle" fontSize={60} fontFamily={SERIF} fill="#000">t2</text>
      <text x={605} y={54} textAnchor="middle" fontSize={60} fontFamily={SERIF} fill="#000">t3</text>
      <text x={1240} y={61} textAnchor="middle" fontSize={60} fontFamily={SERIF} fill="#000">t4</text>
      <text x={199} y={166} fontSize={31} fontWeight="bold" fontFamily={SANS} fill="#000" textLength={146} lengthAdjust="spacingAndGlyphs">
        stage 3
      </text>
      <text x={657} y={731} fontSize={31} fontFamily={SANS} fill="#000" textLength={165} lengthAdjust="spacingAndGlyphs">
        time (min)
      </text>
      <text
        x={0}
        y={0}
        transform="translate(48,360) rotate(-90)"
        textAnchor="middle"
        fontSize={36}
        fontFamily={SANS}
        fill="#000"
      >
        distance to injection (m)
      </text>
      <text x={188} y={806} fontSize={62} fontFamily={SERIF} fill="#000" textLength={221} lengthAdjust="spacingAndGlyphs">
        injection
      </text>
      <text x={188} y={874} fontSize={62} fontFamily={SERIF} fill="#000">phase</text>
      <text x={668} y={797} fontSize={62} fontFamily={SERIF} fill="#000" textLength={515} lengthAdjust="spacingAndGlyphs">
        post-injection phase
      </text>
    </g>
  );
}

export default function App() {
  return (
    <div style={{ position: "absolute", left: 0, top: 0, width: 1328, height: 890, background: "#fff" }}>
      <ScatterChart width={1328} height={890} margin={{ top: 97, right: 22, bottom: 203, left: 70 }}>
        <XAxis
          type="number"
          dataKey="t"
          domain={[0, 80]}
          ticks={X_TICKS}
          interval={0}
          height={60}
          tickSize={0}
          tickMargin={0}
          tickLine={false}
          tick={<TimeTick />}
          axisLine={{ stroke: "#000", strokeWidth: 3 }}
          allowDataOverflow
        />
        <YAxis
          type="number"
          dataKey="d"
          domain={[-150, 250]}
          ticks={Y_TICKS}
          interval={0}
          width={100}
          tickSize={0}
          tickMargin={0}
          tickLine={false}
          tick={<DistTick />}
          axisLine={{ stroke: "#000", strokeWidth: 3 }}
          allowDataOverflow
        />
        <ReferenceArea x1={T1} x2={T2} y1={-150} y2={250} fill="#c8c8c8" fillOpacity={1} stroke="none" />
        <ReferenceLine x={T1} stroke="#808080" strokeWidth={5} />
        <ReferenceLine x={T2} stroke="#808080" strokeWidth={5} />
        <ReferenceLine x={T3} stroke="#ff8080" strokeWidth={6} />
        <ReferenceLine x={T4} stroke="#ff8080" strokeWidth={6} />
        {SERIES.map((s, i) => (
          <Scatter
            key={i}
            data={s.map(([t, d]) => ({ t, d }))}
            shape={Ring}
            isAnimationActive={false}
          />
        ))}
        <Customized component={Annotations} />
      </ScatterChart>
    </div>
  );
}
